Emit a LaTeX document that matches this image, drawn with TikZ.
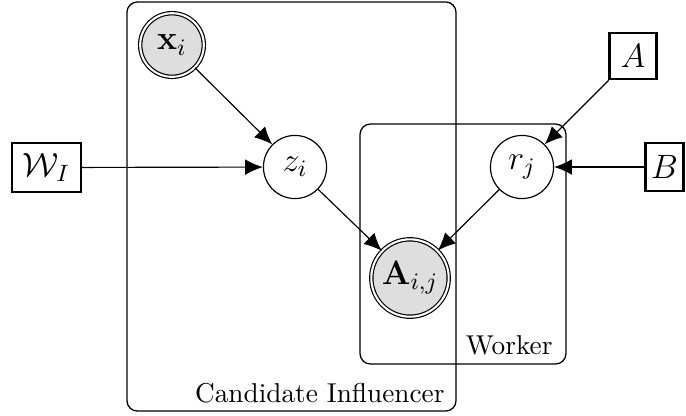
\RequirePackage{fix-cm}
\documentclass[tikz,border=0pt]{standalone}
\usetikzlibrary{arrows.meta}
\begin{document}
\begin{tikzpicture}[x=0.385pt,y=-0.385pt,
  mathfont/.style={font=\fontsize{13}{15}\selectfont},
  latent/.style={circle, draw, line width=0.45pt, fill=white, inner sep=0pt, minimum size=24.3pt, mathfont},
  obs/.style={circle, draw, line width=0.45pt, double, double distance=0.8pt, fill=black!13, inner sep=0pt, mathfont},
  param/.style={rectangle, draw, line width=1pt, fill=white, inner sep=0pt, mathfont},
  plate/.style={rectangle, draw, line width=0.5pt, rounded corners=4pt, inner sep=0pt},
  platelabel/.style={anchor=base east, inner sep=0pt, font=\fontsize{10.5}{13}\selectfont},
  arr/.style={-{Latex[length=6.8pt,width=6pt]}, line width=0.45pt}
]
\useasboundingbox (0,0) rectangle (686,415);
% plates
\node[plate, minimum width=126.7pt, minimum height=157.5pt] (outer) at (291.5,206.5) {};
\node[plate, minimum width=79.3pt, minimum height=92.4pt] (worker) at (463,244) {};
\node[platelabel] (cilabel) at (445,402) {Candidate Influencer};
\node[platelabel] (wlabel) at (553,354) {Worker};
% variables
\node[obs, minimum size=24.5pt] (x) at (172,45) {$\mathbf{x}_i$};
\node[latent] (z) at (295,167) {$z_i$};
\node[obs, minimum size=29.8pt] (Aij) at (410,278) {$\mathbf{A}_{i,j}$};
\node[latent] (r) at (522,167) {$r_j$};
% parameters
\node[param, minimum width=26.5pt, minimum height=18.9pt] (W) at (46.5,167.5) {$\mathcal{W}_I$};
\node[param, minimum width=18pt, minimum height=17.7pt] (A) at (633,56) {$A$};
\node[param, minimum width=14.8pt, minimum height=18.5pt] (B) at (664.5,167) {$B$};
% edges
\draw[arr] (x) -- (z);
\draw[arr] (W) -- (z);
\draw[arr] (z) -- (Aij);
\draw[arr] (r) -- (Aij);
\draw[arr] (A) -- (r);
\draw[arr] (B) -- (r);
\end{tikzpicture}
\end{document}
